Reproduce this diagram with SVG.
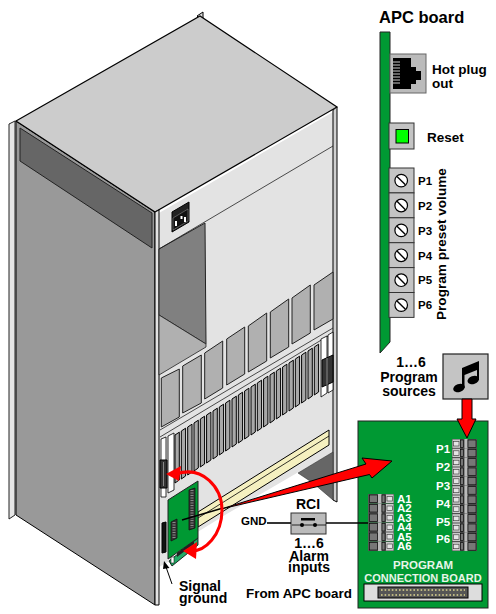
<svg xmlns="http://www.w3.org/2000/svg" width="496" height="614" viewBox="0 0 496 614">
<style>
text{font-family:"Liberation Sans",Arial,sans-serif;font-weight:700;fill:#000}
.c{text-anchor:middle}
.s14{font-size:14px}.s13{font-size:13.5px}.s11{font-size:11.5px}
.w{fill:#fff}.pw{fill:#e8f5e8}
.thin{stroke:#222;stroke-width:.8}
.panel{fill:#b0b0b0;stroke:#222;stroke-width:1}
.slot{fill:#a8a8a8;stroke:#000;stroke-width:1}
.green{fill:#009933;stroke:#222;stroke-width:1}
.red{fill:#f00;stroke:#000;stroke-width:1;stroke-linejoin:miter}
.curve{fill:none;stroke:#f00;stroke-width:3}
.redh{fill:#f00}
.box{fill:#c4c4c4;stroke:#333;stroke-width:1}
.wire{fill:none;stroke:#000;stroke-width:1.6}
</style>
<defs>
<polygon id="sl" class="slot" points="0,0 4.3,-2.8 4.3,45 0,48"/>
<g id="trim"><rect x="0" y="0" width="25" height="24.9" class="box"/><circle cx="12.2" cy="12.6" r="6.3" fill="#fff" stroke="#000" stroke-width="1.2"/><line x1="8" y1="8.4" x2="16.4" y2="16.8" stroke="#000" stroke-width="1.4"/></g>
<g id="prow"><rect width="25" height="9.33" fill="#555"/><rect x=".5" y=".5" width="7.5" height="8.3" fill="#ccc"/><rect x="1.5" y="2.5" width="5.5" height="4.5" fill="#e4e4e4" stroke="#333" stroke-width=".6"/><rect x="8.5" y="1" width="3" height="7.3" fill="#777" stroke="#000" stroke-width=".6"/><rect x="12.5" y="0" width="3" height="9.33" fill="#bbb"/><rect x="16" y="1" width="8" height="7.5" fill="#777" stroke="#000" stroke-width=".6"/></g>
<g id="arow"><rect width="26" height="9.5" fill="#555"/><rect x="1.5" y="1" width="8" height="7.5" fill="#777" stroke="#000" stroke-width=".6"/><rect x="10" y="0" width="3.5" height="9.5" fill="#bbb"/><rect x="14" y="1" width="3" height="7.5" fill="#777" stroke="#000" stroke-width=".6"/><rect x="18" y=".5" width="7.5" height="8.5" fill="#ccc"/><rect x="19" y="2.5" width="5.5" height="4.5" fill="#e4e4e4" stroke="#333" stroke-width=".6"/></g>
</defs>

<g id="cabinet">
<polygon points="197,16 203,12 203,22" fill="#ddd" stroke="#000" stroke-width="1"/>
<polygon points="9,124 15,121 15,515 9,519" fill="#e6e6e6" stroke="#222" stroke-width="1"/>
<polygon points="16,121 155,212 155,605 16,515" fill="#999" stroke="#000" stroke-width="1"/>
<polygon points="20,128 152,213 152,248 20,161" fill="#666" stroke="#222" stroke-width="1"/>
<polygon points="16,121 200,16 337,107 155,212" fill="#ccc" stroke="#000" stroke-width="1.2"/>
<polygon points="159,213 333,112 333,452 225,515 196,533 168,562 159,567" fill="#e3e3e3"/>
<polygon points="155,212 159,210 159,605 155,605" fill="#e3e3e3" stroke="#000" stroke-width="1"/>
<polygon points="333,110 337,107 337,502 333,500" fill="#d0d0d0" stroke="#000" stroke-width="1"/>
<polygon points="298,473 333,452 333,500 313,483" fill="#666" stroke="#333" stroke-width=".6"/>
<polygon points="159,249 205,223 206,344 159,315" fill="#808080" stroke="#222" stroke-width="1"/>
<polygon points="159,315 206,344 206,347 159,375" fill="#b0b0b0" stroke="#222" stroke-width=".8"/>
<line class="thin" x1="159" y1="249" x2="333" y2="146"/>
<polygon points="172,212 189,202 189,222 172,232" fill="#222" stroke="#000"/>
<polygon points="173,218 188,209 188,221 173,230" fill="#111" stroke="#999" stroke-width=".5"/>
<rect x="175" y="221" width="2" height="5" fill="#fff"/><rect x="180.500" y="216" width="2" height="3" fill="#fff"/><rect x="184" y="217" width="2" height="5" fill="#fff"/>
<g id="panels">
<polygon class="panel" points="161.300,378 179.300,369 179.300,417 161.300,427"/>
<polygon class="panel" points="182.700,366 201.300,355 201.300,403 182.700,413"/>
<polygon class="panel" points="204.700,353 222.700,341 222.700,388 204.700,399"/>
<polygon class="panel" points="226.700,339 244.700,327 244.700,374 226.700,385"/>
<polygon class="panel" points="248.300,326 266.700,313 266.700,361 248.300,372"/>
<polygon class="panel" points="270.300,312 288.700,299 288.700,347 270.300,358"/>
<polygon class="panel" points="292,298 310.300,285 310.300,333 292,344"/>
<polygon class="panel" points="314,285 333,272 333,319 314,330"/>
</g>
<line class="thin" x1="160" y1="430" x2="333" y2="328"/>
<line class="thin" x1="160" y1="437" x2="333" y2="333"/>
<g id="slots">
<use href="#sl" x="175" y="435"/><use href="#sl" x="181.300" y="431"/><use href="#sl" x="187.700" y="427"/><use href="#sl" x="194" y="423"/><use href="#sl" x="200.300" y="419"/><use href="#sl" x="206.600" y="415"/><use href="#sl" x="213" y="411"/><use href="#sl" x="219.300" y="407"/><use href="#sl" x="225.600" y="403"/><use href="#sl" x="232" y="399"/><use href="#sl" x="238.300" y="395"/><use href="#sl" x="244.600" y="391"/><use href="#sl" x="251" y="387"/><use href="#sl" x="257.300" y="383"/><use href="#sl" x="263.600" y="379"/><use href="#sl" x="270" y="375"/><use href="#sl" x="276.300" y="371"/><use href="#sl" x="282.600" y="367"/><use href="#sl" x="289" y="363"/><use href="#sl" x="295.300" y="359"/><use href="#sl" x="301.600" y="355"/><use href="#sl" x="308" y="351"/><use href="#sl" x="314.300" y="347"/>
</g>
<polygon points="321,339 327,336 327,393 321,397" fill="#fff" stroke="#000" stroke-width=".8"/>
<polygon points="328,335 333,332 333,390 328,393" fill="#fff" stroke="#000" stroke-width=".8"/>
<polygon points="322,360 333,355 333,382 322,387" fill="#333" stroke="#000"/>
<line x1="327" y1="358" x2="327" y2="385" stroke="#888"/>
<polygon points="161,439 166,437 166,497 161,497" fill="#fff" stroke="#000" stroke-width=".8"/>
<polygon points="168,436 174,433 174,490 168,493" fill="#fff" stroke="#000" stroke-width=".8"/>
<polygon points="160,460 167,460 167,488 160,488" fill="#333" stroke="#000"/>
<line x1="163.500" y1="462" x2="163.500" y2="486" stroke="#888"/>
<polygon points="329,430 329,445 198,527 198,512" fill="#f5f0c0" stroke="#000" stroke-width="1"/>
<line x1="329" y1="436" x2="198" y2="518" stroke="#000" stroke-width=".8"/>
<polygon points="162,523 166,522 166,552 162,553" fill="#111" stroke="#000"/>
<polygon points="169,561 198,538 198,545 172,566" fill="#2a6" stroke="#000" stroke-width=".8"/>
<rect x="171" y="557" width="3" height="6" fill="#fff" stroke="#000" stroke-width=".5"/>
<polygon points="177,553 194,540 194,544 177,557" fill="#222"/>
<polygon class="green" points="168,500 198,481 198,538 168,559"/>
<polygon points="189,490 195,488 195,528 189,530" fill="#333" stroke="#111" stroke-width=".8"/>
<line x1="192" y1="490" x2="192" y2="528" stroke="#888" stroke-width="3" stroke-dasharray="1 1.500"/>
<polygon points="171,522 177,519 177,538 171,541" fill="#333" stroke="#111" stroke-width=".8"/>
<line x1="174" y1="522" x2="174" y2="538" stroke="#888" stroke-width="3" stroke-dasharray="1 1.500"/>
</g>

<g id="apc-board">
<text x="379" y="23" font-size="16.500">APC board</text>
<polygon class="green" points="380,32 390,32 390,342 380,353"/>
</g>
<g id="hot-plug">
<rect x="390" y="54" width="36" height="39" fill="#bbb" stroke="#666"/>
<polygon points="393,58 411,58 411,67 416,67 416,71 421,71 421,80 416,80 416,84 411,84 411,89 393,89"/>
<path d="M393,62h7M393,65h7M393,68h7M393,71h7M393,74h7M393,77h7M393,80h7M393,83h7" stroke="#fff" stroke-width=".8"/>
<text class="s13" x="432" y="74">Hot plug</text>
<text class="s13" x="432" y="88">out</text>
</g>
<g id="reset">
<rect x="389" y="123" width="25" height="26" class="box"/>
<rect x="396" y="129.500" width="12.500" height="13.500" fill="#0f0" stroke="#000"/>
<text class="s13" x="427" y="142">Reset</text>
</g>
<g id="preset">
<use href="#trim" x="389" y="168"/><use href="#trim" x="389" y="192.900"/><use href="#trim" x="389" y="217.800"/><use href="#trim" x="389" y="242.700"/><use href="#trim" x="389" y="267.600"/><use href="#trim" x="389" y="292.500"/>
<text class="s11" x="418" y="185">P1</text><text class="s11" x="418" y="210">P2</text><text class="s11" x="418" y="235">P3</text><text class="s11" x="418" y="260">P4</text><text class="s11" x="418" y="284">P5</text><text class="s11" x="418" y="309">P6</text>
<text font-size="13.600" transform="translate(445.500,320) rotate(-90)">Program preset volume</text>
</g>
<g id="sources">
<text class="s14 c" x="411" y="367">1…6</text>
<text class="s14 c" x="409" y="382">Program</text>
<text class="s14 c" x="409" y="396">sources</text>
<rect x="443" y="354" width="45" height="45" fill="#c4c4c4" stroke="#222" stroke-width="1.2"/>
<ellipse cx="459" cy="388" rx="6" ry="4" transform="rotate(-20 459 388)"/>
<ellipse cx="473.300" cy="380" rx="6" ry="4" transform="rotate(-20 473.300 380)"/>
<path d="M462,388V368L479,361V380H477V370L464.500,375V388Z"/>
</g>
<g id="program-board">
<rect class="green" x="358" y="421" width="130" height="187"/>
<g id="pblock">
<rect x="452" y="439" width="25" height="112" fill="#222"/>
<use href="#prow" x="452" y="439"/><use href="#prow" x="452" y="448.300"/><use href="#prow" x="452" y="457.700"/><use href="#prow" x="452" y="467"/><use href="#prow" x="452" y="476.300"/><use href="#prow" x="452" y="485.700"/><use href="#prow" x="452" y="495"/><use href="#prow" x="452" y="504.300"/><use href="#prow" x="452" y="513.700"/><use href="#prow" x="452" y="523"/><use href="#prow" x="452" y="532.300"/><use href="#prow" x="452" y="541.700"/>
</g>
<g id="ablock">
<use href="#arow" x="368" y="494"/><use href="#arow" x="368" y="503.500"/><use href="#arow" x="368" y="513"/><use href="#arow" x="368" y="522.500"/><use href="#arow" x="368" y="532"/><use href="#arow" x="368" y="541.500"/>
</g>
<text class="s11 w" x="436" y="453">P1</text><text class="s11 w" x="436" y="471">P2</text><text class="s11 w" x="436" y="490">P3</text><text class="s11 w" x="436" y="508">P4</text><text class="s11 w" x="436" y="526">P5</text><text class="s11 w" x="436" y="543">P6</text>
<g font-size="11.500"><text class="w" x="397" y="503">A1</text><text class="w" x="397" y="512">A2</text><text class="w" x="397" y="522">A3</text><text class="w" x="397" y="531">A4</text><text class="w" x="397" y="541">A5</text><text class="w" x="397" y="550">A6</text></g>
<text class="s11 c pw" x="423" y="569">PROGRAM</text>
<text font-size="11" class="c pw" x="423" y="582">CONNECTION BOARD</text>
<rect x="364" y="584" width="118" height="17" fill="#ddd" stroke="#000"/>
<rect x="378" y="587" width="90" height="11" fill="#555" stroke="#000"/>
<path d="M381,590H465M381,595H465" stroke="#e0d890" stroke-width="1.600" stroke-dasharray="1.600 2"/>
</g>
<g id="rci">
<text class="s14 c" x="308" y="509">RCI</text>
<rect x="291" y="513" width="35" height="21" fill="#bbb" stroke="#333"/>
<path d="M292,525H326" stroke="#000" stroke-width=".8"/>
<circle cx="302" cy="525" r="2"/><circle cx="315" cy="525" r="2"/>
<rect x="301" y="518" width="14" height="2.500"/>
<text class="s11" x="241" y="525">GND</text>
<text class="s14 c" x="309" y="548">1…6</text>
<text class="s14 c" x="309" y="561">Alarm</text>
<text class="s14 c" x="309" y="571.500">inputs</text>
</g>
<g id="labels">
<text class="s14" x="179" y="591">Signal</text>
<text class="s14" x="179" y="603">ground</text>
<text font-size="13.400" x="246" y="598">From APC board</text>
</g>

<g id="connectors">
<polygon class="red" points="392,461 362,458 366,464 221,509 369.500,474.500 372,478"/>
<line x1="182" y1="520" x2="223" y2="508" stroke="#000" stroke-width="1.5"/>
<path class="curve" d="M176,474 C203,465 222,488 222,510 C222,535 205,552 190,551"/>
<polygon class="redh" points="166,474 181,466 179,481"/>
<polygon class="redh" points="183,551 197,542 196,559"/>
<line x1="172" y1="584" x2="166" y2="567" stroke="#000" stroke-width="1"/>
<polygon points="164,561 169.500,568 163,569" fill="#000"/>
<polygon class="red" points="462,399 472,399 472,419 476,419 467,438 457,419 462,419"/>
<line class="wire" x1="267" y1="523" x2="291" y2="523"/>
<line class="wire" x1="326" y1="523" x2="368" y2="523"/>
</g>
</svg>
